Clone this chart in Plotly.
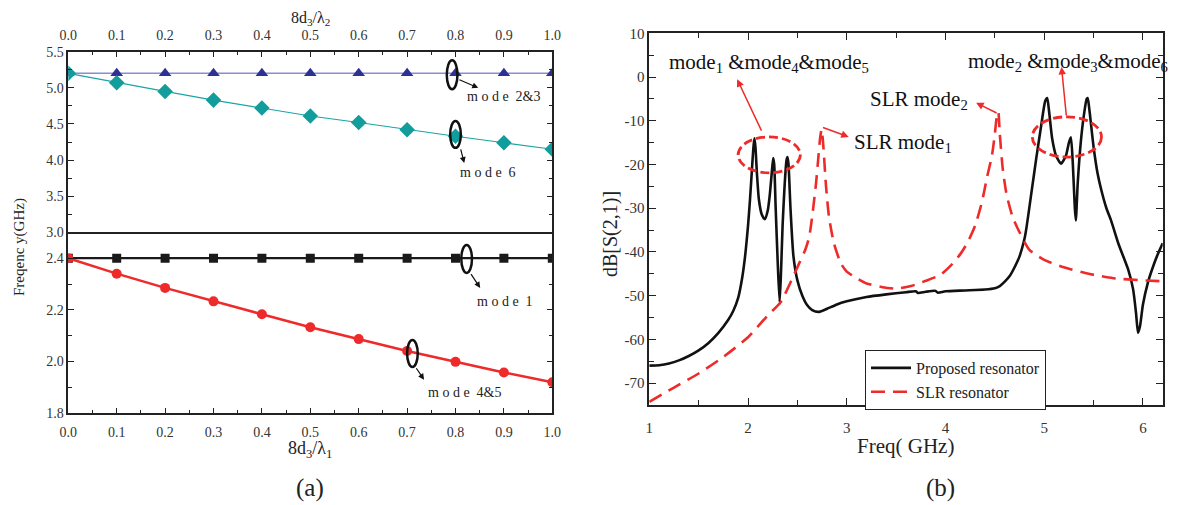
import plotly.graph_objects as go

# ---------------- data: panel (a) ----------------
ratio = [0.0, 0.1, 0.2, 0.3, 0.4, 0.5, 0.6, 0.7, 0.8, 0.9, 1.0]
mode23 = [5.2, 5.2, 5.2, 5.2, 5.2, 5.2, 5.2, 5.2, 5.2, 5.2, 5.2]
mode6 = [5.2, 5.07, 4.95, 4.83, 4.72, 4.61, 4.52, 4.42, 4.33, 4.24, 4.15]
mode1 = [2.4, 2.4, 2.4, 2.4, 2.4, 2.4, 2.4, 2.4, 2.4, 2.4, 2.4]
mode45 = [2.4, 2.34, 2.285, 2.233, 2.183, 2.133, 2.087, 2.041, 1.999, 1.958, 1.92]

x_ticks_a = [0.0, 0.1, 0.2, 0.3, 0.4, 0.5, 0.6, 0.7, 0.8, 0.9, 1.0]
y_ticks_top = [3.0, 3.5, 4.0, 4.5, 5.0, 5.5]
y_ticks_bot = [1.8, 2.0, 2.2, 2.4]

# ---------------- data: panel (b) ----------------
freq_p = [1.0, 1.1, 1.2, 1.3, 1.4, 1.5, 1.6, 1.7, 1.8, 1.85, 1.9, 1.94, 1.97, 2.0,
          2.02, 2.04, 2.055, 2.065, 2.075, 2.09, 2.11, 2.14, 2.17, 2.2, 2.22, 2.24,
          2.255, 2.265, 2.28, 2.3, 2.32, 2.335, 2.35, 2.37, 2.39, 2.40, 2.41, 2.43,
          2.46, 2.5, 2.55, 2.6, 2.65, 2.72, 2.8, 2.9, 3.0, 3.2, 3.4, 3.6, 3.7, 3.72,
          3.8, 3.9, 3.92, 4.0, 4.2, 4.4, 4.5, 4.55, 4.6, 4.65, 4.7, 4.75, 4.8, 4.82,
          4.87, 4.92, 4.97, 5.01, 5.03, 5.05, 5.08, 5.12, 5.17, 5.22, 5.25, 5.27,
          5.29, 5.31, 5.32, 5.34, 5.37, 5.40, 5.43, 5.44, 5.46, 5.5, 5.54, 5.58,
          5.63, 5.68, 5.75, 5.8, 5.85, 5.9, 5.93, 5.95, 5.97, 6.0, 6.05, 6.1, 6.15, 6.2]
db_p = [-66.0, -65.9, -65.5, -64.8, -63.8, -62.5, -60.8, -58.5, -55.5, -53.5, -50.5,
        -46.0, -41.0, -34.0, -28.0, -21.0, -16.0, -14.0, -16.0, -22.0, -28.0, -31.5,
        -32.5, -30.5, -27.0, -22.0, -18.5, -20.0, -30.0, -42.0, -51.5, -44.0, -34.0,
        -25.0, -19.0, -18.3, -20.0, -30.0, -41.0, -46.5, -50.0, -52.2, -53.3, -53.7,
        -53.0, -52.0, -51.3, -50.3, -49.7, -49.2, -49.0, -49.4, -49.1, -48.9, -49.3,
        -49.0, -48.8, -48.6, -48.3, -47.8, -46.8, -45.5, -43.5, -41.0, -37.0, -34.5,
        -26.5, -18.5, -11.0, -5.5, -4.8, -8.0, -14.0, -18.0, -19.8, -18.0, -15.0,
        -13.8, -20.0, -30.0, -32.8, -24.0, -15.0, -9.0, -5.0, -4.8, -8.0, -16.0,
        -22.0, -26.0, -30.0, -33.0, -38.0, -41.0, -44.0, -48.5, -54.0, -58.5, -57.0,
        -52.0, -47.0, -43.5, -40.5, -38.0]

freq_s = [1.0, 1.25, 1.5, 1.75, 2.0, 2.2, 2.33, 2.45, 2.52, 2.58, 2.62, 2.66, 2.69,
          2.71, 2.73, 2.745, 2.76, 2.79, 2.82, 2.87, 2.94, 3.0, 3.1, 3.2, 3.35, 3.5,
          3.65, 3.8, 3.95, 4.05, 4.15, 4.22, 4.3, 4.37, 4.42, 4.47, 4.5, 4.52, 4.535,
          4.55, 4.58, 4.62, 4.68, 4.75, 4.85, 5.0, 5.2, 5.45, 5.7, 6.0, 6.2]
db_s = [-74.3, -71.0, -67.8, -64.0, -59.5, -54.5, -51.5, -46.0, -42.5, -39.5, -36.5,
        -30.0, -24.0, -19.0, -14.0, -12.0, -15.0, -25.0, -32.0, -38.0, -42.6, -44.5,
        -46.0, -47.2, -48.0, -48.4, -47.8, -46.6, -45.2, -43.2, -40.5, -38.0, -34.0,
        -28.5, -23.0, -18.0, -13.0, -9.0, -8.0, -13.0, -21.0, -27.0, -32.0, -35.5,
        -39.5, -41.8, -43.5, -45.0, -46.0, -46.5, -46.7]

x_ticks_b = [1, 2, 3, 4, 5, 6]
y_ticks_b = [10, 0, -10, -20, -30, -40, -50, -60, -70]
y_ticklabels_b = ["10", "0", "-10", "-20", "-30", "-40", "-50", "-60", "-70"]

SERIF = "Liberation Serif"
AX = "#222222"
TXT = "#333333"

W, H = 1182.0, 505.0
OFF = 8.0  # the page body has an 8px margin; positions below are page pixels


def PX(px):
    return (px - OFF) / W


def PY(py):
    return 1 - (py - OFF) / H


fig = go.Figure()

fig.add_trace(go.Scatter(x=ratio, y=mode23, xaxis="x2", yaxis="y", mode="lines+markers",
                         line=dict(color="#8C8CD0", width=1.5),
                         marker=dict(symbol="triangle-up", size=11, color="#2E3192"),
                         showlegend=False))
fig.add_trace(go.Scatter(x=ratio, y=mode6, xaxis="x2", yaxis="y", mode="lines+markers",
                         line=dict(color="#1AA5A5", width=1.2),
                         marker=dict(symbol="diamond", size=12, color="#129C9C"),
                         showlegend=False))
fig.add_trace(go.Scatter(x=ratio, y=mode1, xaxis="x", yaxis="y2", mode="lines+markers",
                         line=dict(color="#1a1a1a", width=2.2),
                         marker=dict(symbol="square", size=9, color="#1a1a1a"),
                         showlegend=False))
fig.add_trace(go.Scatter(x=ratio, y=mode45, xaxis="x", yaxis="y2", mode="lines+markers",
                         line=dict(color="#EE2A2A", width=2.5),
                         marker=dict(symbol="circle", size=10, color="#EE2A2A"),
                         showlegend=False))

fig.add_trace(go.Scatter(x=freq_p, y=db_p, xaxis="x3", yaxis="y3", mode="lines",
                         line=dict(color="#111111", width=2.6, shape="spline", smoothing=0.6),
                         name="Proposed resonator"))
fig.add_trace(go.Scatter(x=freq_s, y=db_s, xaxis="x3", yaxis="y3", mode="lines",
                         line=dict(color="#EE2A2A", width=2.6, dash="14px,8px",
                                   shape="spline", smoothing=0.6),
                         name="SLR resonator"))

tickfont_a = dict(family=SERIF, size=14, color=TXT)
tickfont_b = dict(family=SERIF, size=15, color=TXT)

common_a = dict(showline=True, linecolor=AX, linewidth=1.5, ticks="inside", ticklen=6,
                tickwidth=1.2, tickcolor=AX, showgrid=False, zeroline=False,
                tickfont=tickfont_a)

xa_dom = [PX(68.3), PX(552.3)]
xb_dom = [PX(649.3), PX(1162.7)]

fig.update_layout(
    width=1182, height=505,
    margin=dict(l=0, r=0, t=0, b=0, autoexpand=False),
    paper_bgcolor="white", plot_bgcolor="white",
    font=dict(family=SERIF, color=TXT),
    xaxis=dict(domain=xa_dom, anchor="y2", range=[0, 1],
               tickvals=x_ticks_a, ticktext=[f"{v:.1f}" for v in x_ticks_a],
               mirror=False, ticklabelstandoff=5,
               minor=dict(ticks="inside", ticklen=4, tickcolor=AX, dtick=0.05, tick0=0),
               **common_a),
    yaxis2=dict(domain=[PY(413.3), PY(232.3)], anchor="x", range=[1.8, 2.5],
                tickvals=y_ticks_bot, ticktext=[f"{v:.1f}" for v in y_ticks_bot],
                mirror="ticks",
                minor=dict(ticks="inside", ticklen=4, tickcolor=AX, tickvals=[1.9, 2.1, 2.3]),
                **common_a),
    xaxis2=dict(domain=xa_dom, anchor="y", side="top", range=[0, 1],
                tickvals=x_ticks_a, ticktext=[f"{v:.1f}" for v in x_ticks_a],
                mirror=True, ticklabelstandoff=4,
                minor=dict(ticks="inside", ticklen=4, tickcolor=AX, dtick=0.05, tick0=0),
                **common_a),
    yaxis=dict(domain=[PY(232.3), PY(51.7)], anchor="x2", range=[3.0, 5.5],
               tickvals=y_ticks_top, ticktext=[f"{v:.1f}" for v in y_ticks_top],
               mirror="ticks",
               minor=dict(ticks="inside", ticklen=4, tickcolor=AX, dtick=0.25, tick0=3.0),
               **common_a),
    xaxis3=dict(domain=xb_dom, anchor="y3", range=[1, 6.2],
                tickvals=x_ticks_b, ticktext=[str(v) for v in x_ticks_b],
                showline=True, linecolor=AX, linewidth=1.5, ticks="inside", ticklen=7,
                tickwidth=1.2, tickcolor=AX, mirror="ticks", showgrid=False, zeroline=False,
                tickfont=tickfont_b, ticklabelstandoff=8,
                minor=dict(ticks="inside", ticklen=5, tickcolor=AX, dtick=0.5, tick0=1)),
    yaxis3=dict(domain=[PY(405), PY(33.3)], anchor="x3", range=[-75, 10],
                tickvals=y_ticks_b, ticktext=y_ticklabels_b,
                showline=True, linecolor=AX, linewidth=1.5, ticks="inside", ticklen=7,
                tickwidth=1.2, tickcolor=AX, mirror="ticks", showgrid=False, zeroline=False,
                tickfont=tickfont_b,
                minor=dict(ticks="inside", ticklen=5, tickcolor=AX, dtick=5, tick0=0)),
    legend=dict(x=PX(865), y=PY(350), xanchor="left", yanchor="top",
                bgcolor="white", bordercolor=AX, borderwidth=1,
                font=dict(family=SERIF, size=16, color="#222"),
                tracegroupgap=0, itemwidth=40),
)

shapes = []
for (cx, cy, w, h, xr, yr) in [(0.793, 5.18, 0.022, 0.40, "x2", "y"),
                                (0.80, 4.354, 0.022, 0.37, "x2", "y"),
                                (0.823, 2.397, 0.022, 0.108, "x", "y2"),
                                (0.711, 2.031, 0.022, 0.104, "x", "y2")]:
    shapes.append(dict(type="circle", xref=xr, yref=yr, x0=cx - w / 2, x1=cx + w / 2,
                       y0=cy - h / 2, y1=cy + h / 2, line=dict(color="#111", width=2.5)))
shapes.append(dict(type="circle", xref="x3", yref="y3", x0=1.90, x1=2.53, y0=-21.9, y1=-13.7,
                   line=dict(color="#EE2A2A", width=2.8, dash="9px,4px")))
shapes.append(dict(type="circle", xref="x3", yref="y3", x0=4.879, x1=5.58, y0=-18.3, y1=-9.1,
                   line=dict(color="#EE2A2A", width=2.8, dash="9px,4px")))
fig.update_layout(shapes=shapes)

ann = []
for (tx, ty, hx, hy, xr, yr) in [(0.805, 5.12, 0.847, 5.0, "x2", "y"),
                                  (0.81, 4.17, 0.818, 3.96, "x2", "y"),
                                  (0.83, 2.344, 0.851, 2.285, "x", "y2"),
                                  (0.717, 1.98, 0.735, 1.93, "x", "y2")]:
    ann.append(dict(x=hx, y=hy, ax=tx, ay=ty, xref=xr, yref=yr, axref=xr, ayref=yr,
                    text="", showarrow=True, arrowhead=2, arrowsize=1, arrowwidth=1.2,
                    arrowcolor="#111"))
for (txt, x, y, xr, yr) in [("m o d e  2&3", 0.900, 4.873, "x2", "y"),
                            ("m o d e  6", 0.867, 3.821, "x2", "y"),
                            ("m o d e  1", 0.902, 2.234, "x", "y2"),
                            ("m o d e  4&5", 0.819, 1.882, "x", "y2")]:
    ann.append(dict(x=x, y=y, xref=xr, yref=yr, text=txt, showarrow=False,
                    font=dict(family=SERIF, size=14, color="#222")))

for (tx, ty, hx, hy) in [(2.143, -12.6, 1.89, -0.5),
                         (2.744, -11.4, 3.02, -13.7),
                         (4.533, -8.4, 4.31, -5.9),
                         (5.225, -9.1, 5.175, 2.3)]:
    ann.append(dict(x=hx, y=hy, ax=tx, ay=ty, xref="x3", yref="y3", axref="x3", ayref="y3",
                    text="", showarrow=True, arrowhead=2, arrowsize=1, arrowwidth=1.5,
                    arrowcolor="#EE2A2A"))
lab_font = dict(family=SERIF, size=21, color="#111")
ann.append(dict(x=1.18, y=3.2, xref="x3", yref="y3", xanchor="left", showarrow=False,
                text="mode<sub>1</sub> &mode<sub>4</sub>&mode<sub>5</sub>", font=lab_font))
ann.append(dict(x=3.048, y=-15.1, xref="x3", yref="y3", xanchor="left", showarrow=False,
                text="SLR mode<sub>1</sub>", font=lab_font))
ann.append(dict(x=3.22, y=-5.2, xref="x3", yref="y3", xanchor="left", showarrow=False,
                text="SLR mode<sub>2</sub>", font=lab_font))
ann.append(dict(x=4.21, y=3.4, xref="x3", yref="y3", xanchor="left", showarrow=False,
                text="mode<sub>2</sub> &mode<sub>3</sub>&mode<sub>6</sub>", font=lab_font))

for (txt, px, py, size, ang) in [
    ("8d<sub>3</sub>/λ<sub>2</sub>", 310, 18, 16, 0),
    ("8d<sub>3</sub>/λ<sub>1</sub>", 310, 449, 18, 0),
    ("(a)", 310, 488, 25, 0),
    ("(b)", 940, 488, 25, 0),
    ("Freq( GHz)", 905, 446, 21, 0),
    ("dB[S(2,1)]", 611, 234, 20, -90),
    ("Freqenc y(GHz)", 19, 247, 15, -90),
]:
    ann.append(dict(x=PX(px), y=PY(py), xref="paper", yref="paper", text=txt, showarrow=False,
                    textangle=ang, xanchor="center", yanchor="middle",
                    font=dict(family=SERIF, size=size, color="#222")))

fig.update_layout(annotations=ann)

fig.write_html("out.html")
